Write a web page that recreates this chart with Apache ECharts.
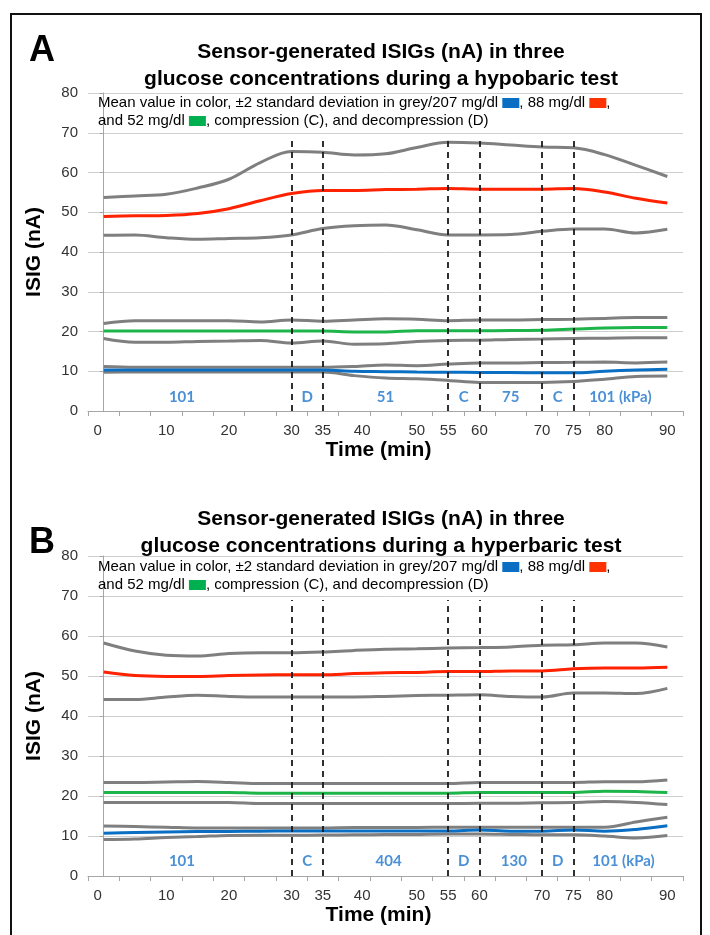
<!DOCTYPE html>
<html>
<head>
<meta charset="utf-8">
<script src="https://cdn.jsdelivr.net/npm/echarts@6/dist/echarts.min.js"></script>
<style>
html,body{margin:0;padding:0;background:#fff;}
#chart{width:710px;height:935px;}
</style>
</head>
<body>
<div id="chart"></div>
<script>
// ---- Data ----
const times = ['0','5','10','15','20','25','30','35','40','45','50','55','60','65','70','75','80','85','90'];
const tickLabels = ['0','10','20','30','35','40','50','55','60','70','75','80','90'];
const changeTimes = ['30','35','55','60','70','75'];

// Panel A: hypobaric test
const hypoRedUpper   = [53.7,54.1,54.5,56.1,58.3,62.5,65.3,65.1,64.4,64.7,66.3,67.6,67.4,66.9,66.4,66.2,64.5,61.8,59.0];
const hypoRed        = [48.9,49.1,49.2,49.7,50.9,52.9,54.7,55.5,55.5,55.7,55.8,56.0,55.8,55.8,55.8,56.0,55.1,53.5,52.3];
const hypoRedLower   = [44.2,44.3,43.6,43.2,43.4,43.6,44.3,45.9,46.6,46.8,45.6,44.3,44.3,44.4,45.2,45.8,45.8,44.8,45.7];
const hypoGreenUpper = [22.0,22.7,22.7,22.7,22.7,22.4,22.9,22.6,22.9,23.2,23.1,22.7,22.9,22.9,23.0,23.1,23.3,23.5,23.5];
const hypoGreen      = [20.1,20.1,20.1,20.1,20.1,20.1,20.1,20.1,19.9,19.9,20.2,20.2,20.2,20.25,20.3,20.6,20.9,21.0,21.0];
const hypoGreenLower = [18.25,17.3,17.3,17.5,17.6,17.75,17.1,17.6,16.8,16.9,17.5,17.75,17.8,18.0,18.1,18.25,18.3,18.4,18.4];
const hypoBlueUpper  = [11.2,11.0,11.0,11.0,11.0,11.0,11.0,11.0,11.2,11.6,11.4,11.8,12.1,12.1,12.2,12.25,12.3,12.1,12.3];
const hypoBlue       = [10.3,10.3,10.3,10.3,10.3,10.3,10.3,10.3,10.0,9.9,9.8,9.75,9.7,9.7,9.6,9.6,10.0,10.3,10.5];
const hypoBlueLower  = [9.75,9.8,9.8,9.8,9.8,9.8,9.8,9.8,8.9,8.3,8.1,7.7,7.2,7.2,7.2,7.4,8.0,8.7,8.8];
const hypoPhaseLabels = ['101','D','51','C','75','C','101 (kPa)'];
const hypoPhaseTimes  = [12.5,32.5,45,57.5,65,72.5,82.5];

// Panel B: hyperbaric test
const hyperRedUpper   = [58.25,56.25,55.2,55.0,55.6,55.8,55.8,56.0,56.4,56.7,56.8,57.0,57.1,57.25,57.7,57.8,58.25,58.25,57.25];
const hyperRed        = [51.0,50.1,49.9,49.9,50.1,50.25,50.3,50.3,50.6,50.8,50.9,51.1,51.1,51.25,51.25,51.8,52.0,52.0,52.2];
const hyperRedLower   = [44.1,44.1,44.75,45.2,44.9,44.75,44.75,44.75,44.75,44.9,45.1,45.2,45.3,44.9,44.75,45.75,45.75,45.6,46.9];
const hyperGreenUpper = [23.4,23.4,23.5,23.6,23.4,23.1,23.1,23.1,23.1,23.1,23.1,23.1,23.4,23.4,23.4,23.4,23.55,23.55,24.0];
const hyperGreen      = [20.9,20.9,20.9,20.9,20.9,20.7,20.7,20.7,20.7,20.7,20.7,20.7,20.9,20.9,20.9,20.9,21.2,21.15,20.9];
const hyperGreenLower = [18.35,18.35,18.35,18.35,18.35,18.1,18.1,18.1,18.1,18.1,18.1,18.1,18.2,18.2,18.3,18.35,18.6,18.4,17.85];
const hyperBlueUpper  = [12.5,12.35,12.2,12.0,12.0,12.0,12.0,12.0,12.1,12.1,12.15,12.2,12.2,12.2,12.2,12.2,12.2,13.5,14.7];
const hyperBlue       = [10.7,10.85,11.0,11.1,11.15,11.2,11.25,11.25,11.25,11.25,11.25,11.25,11.5,11.2,11.2,11.5,11.2,11.65,12.55];
const hyperBlueLower  = [9.1,9.25,9.6,9.85,10.15,10.2,10.2,10.25,10.3,10.35,10.4,10.5,10.5,10.4,10.3,10.3,10.0,9.5,10.1];
const hyperPhaseLabels = ['101','C','404','D','130','D','101 (kPa)'];
const hyperPhaseTimes  = [12.5,32.5,45.5,57.5,65.5,72.5,83];

// ---- Styles ----
const BLUE = '#0a6fc2', RED = '#ff2200', GREEN = '#1db54a', GREY = '#7f7f7f';
const ANN_BLUE = '#1b74cc';
const FONT = 'Liberation Sans, Arial, sans-serif';

const chart = echarts.init(document.getElementById('chart'), null, {renderer:'canvas'});

const grids = [
  {left:88, width:595, top:93, height:318},
  {left:88, width:595, top:556, height:320}
];

function xAxes(gi){
  return [
    {
      type:'category', gridIndex:gi, data:times, boundaryGap:true,
      name:'Time (min)', nameLocation:'middle', nameGap:29,
      nameTextStyle:{fontFamily:FONT, fontWeight:'bold', fontSize:21, color:'#000', padding:[0,14,0,0]},
      axisLine:{lineStyle:{color:'#a6a6a6', width:1}},
      axisTick:{show:true, interval:0, length:5, lineStyle:{color:'#a6a6a6'}},
      axisLabel:{
        interval:0, fontFamily:FONT, fontSize:15, color:'#333', margin:12,
        formatter:function(v){
          if(tickLabels.indexOf(v) < 0) return '';
          if(v === '0') return '{l|0}';
          if(v === '40') return '{r|40}';
          return v;
        },
        rich:{
          l:{fontFamily:FONT, fontSize:15, color:'#333', padding:[0,12,0,0]},
          r:{fontFamily:FONT, fontSize:15, color:'#333', padding:[0,0,0,16]}
        }
      },
      splitLine:{show:false}
    },
    {type:'value', gridIndex:gi, min:-2.5, max:92.5, show:false}
  ];
}

function yAxis(gi){
  return {
    type:'value', gridIndex:gi, min:0, max:80, interval:10,
    name:'ISIG (nA)', nameLocation:'middle', nameRotate:90, nameGap:43,
    nameTextStyle:{fontFamily:FONT, fontWeight:'bold', fontSize:21, color:'#000'},
    axisLine:{show:true, lineStyle:{color:'#a6a6a6'}},
    axisTick:{show:true, length:4, lineStyle:{color:'#a6a6a6'}},
    axisLabel:{fontFamily:FONT, fontSize:15, color:'#333', margin:10},
    splitLine:{show:true, lineStyle:{color:'#cfcfcf', width:1}}
  };
}

function line(xi, yi, data, color, z){
  return {
    type:'line', xAxisIndex:xi, yAxisIndex:yi, data:data,
    smooth:0.35, symbol:'none', z:z,
    lineStyle:{color:color, width:3},
    silent:true
  };
}

function panelSeries(xi, yi, d, phaseLabels, phaseTimes, annY){
  const s = [];
  s.push(line(xi, yi, d.redU, GREY, 2));
  s.push(line(xi, yi, d.redL, GREY, 2));
  s.push(line(xi, yi, d.greenU, GREY, 2));
  s.push(line(xi, yi, d.greenL, GREY, 2));
  s.push(line(xi, yi, d.blueU, GREY, 2));
  s.push(line(xi, yi, d.blueL, GREY, 2));
  s.push(line(xi, yi, d.green, GREEN, 3));
  s.push(line(xi, yi, d.blue, BLUE, 3));
  const red = line(xi, yi, d.red, RED, 3);
  red.markLine = {
    silent:true, symbol:['none','none'],
    lineStyle:{color:'#1a1a1a', type:[6,5], width:1.8},
    label:{show:false},
    data: changeTimes.map(t => [{xAxis:t, yAxis:0},{xAxis:t, yAxis:69}])
  };
  s.push(red);
  s.push({
    type:'scatter', xAxisIndex:xi+1, yAxisIndex:yi, symbolSize:1,
    itemStyle:{color:'rgba(0,0,0,0)'}, silent:true, z:5,
    data: phaseLabels.map((n,i) => ({name:n, value:[phaseTimes[i], annY]})),
    label:{show:true, position:'inside', formatter:'{b}', fontFamily:'Lato, sans-serif',
      fontWeight:'bold', fontSize:15, color:ANN_BLUE}
  });
  return s;
}

const dataA = {redU:hypoRedUpper, red:hypoRed, redL:hypoRedLower, greenU:hypoGreenUpper, green:hypoGreen, greenL:hypoGreenLower, blueU:hypoBlueUpper, blue:hypoBlue, blueL:hypoBlueLower};
const dataB = {redU:hyperRedUpper, red:hyperRed, redL:hyperRedLower, greenU:hyperGreenUpper, green:hyperGreen, greenL:hyperGreenLower, blueU:hyperBlueUpper, blue:hyperBlue, blueL:hyperBlueLower};

const legendRich = {
  b:{width:17, height:10, backgroundColor:BLUE},
  r:{width:17, height:10, backgroundColor:'#ff3300'},
  g:{width:17, height:10, backgroundColor:'#00b050'}
};
const legendText = 'Mean value in color, \u00b12 standard deviation in grey/207 mg/dl {b| }, 88 mg/dl {r| },\nand 52 mg/dl {g| }, compression (C), and decompression (D)';

function titleText(kind){
  return 'Sensor-generated ISIGs (nA) in three\nglucose concentrations during a ' + kind + ' test';
}

const option = {
  backgroundColor:'#fff',
  animation:false,
  title:[
    {text:titleText('hypobaric'), left:376, top:34, textAlign:'center',
     textStyle:{fontFamily:FONT, fontWeight:'bold', fontSize:21, color:'#000', lineHeight:27}},
    {text:titleText('hyperbaric'), left:376, top:501, textAlign:'center',
     textStyle:{fontFamily:FONT, fontWeight:'bold', fontSize:21, color:'#000', lineHeight:27}},
    {text:'A', left:24, top:28, textStyle:{fontFamily:FONT, fontWeight:'bold', fontSize:36, color:'#000'}},
    {text:'B', left:24, top:520, textStyle:{fontFamily:FONT, fontWeight:'bold', fontSize:36, color:'#000'}}
  ],
  grid:grids,
  xAxis:[].concat(xAxes(0), xAxes(1)),
  yAxis:[yAxis(0), yAxis(1)],
  series:[].concat(
    panelSeries(0, 0, dataA, hypoPhaseLabels, hypoPhaseTimes, 3.4),
    panelSeries(2, 1, dataB, hyperPhaseLabels, hyperPhaseTimes, 3.8)
  ),
  graphic:[
    {type:'rect', silent:true, z:100,
     shape:{x:11, y:14, width:690, height:940},
     style:{fill:'none', stroke:'#111', lineWidth:2}},
    {type:'text', silent:true, x:98, y:94, z:10,
     style:{text:legendText, rich:legendRich, fontFamily:FONT, fontSize:15, fill:'#000', lineHeight:18}},
    {type:'text', silent:true, x:98, y:558, z:10,
     style:{text:legendText, rich:legendRich, fontFamily:FONT, fontSize:15, fill:'#000', lineHeight:18}}
  ]
};
chart.setOption(option);
</script>
</body>
</html>
